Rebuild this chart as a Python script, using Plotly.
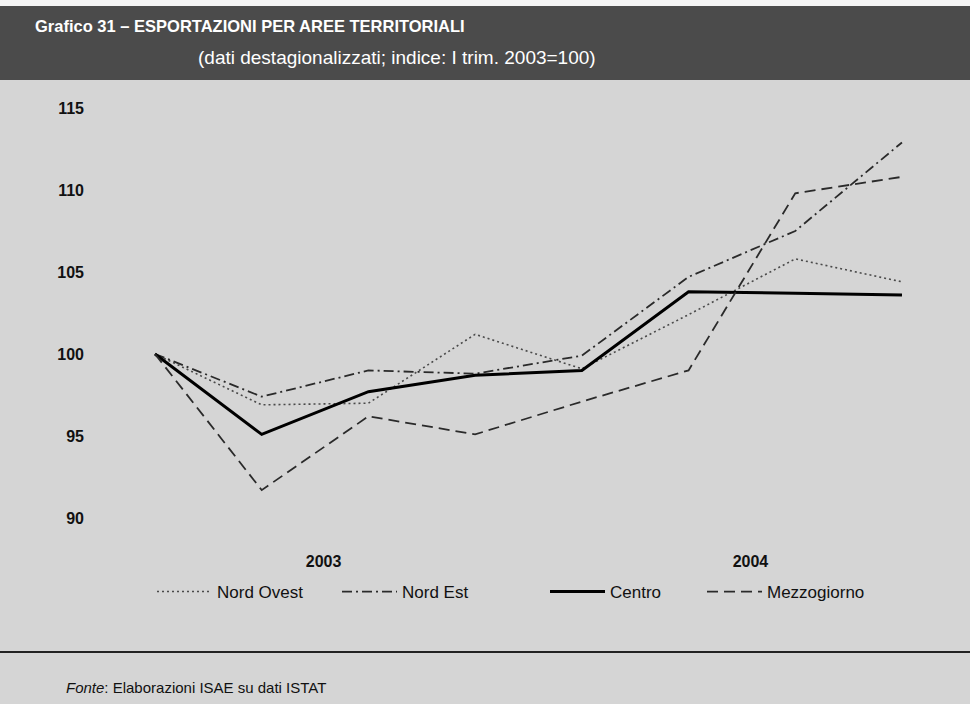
import plotly.graph_objects as go

# ---- data ----
quarters = ["I 2003", "II 2003", "III 2003", "IV 2003", "I 2004", "II 2004", "III 2004", "IV 2004"]
nord_ovest = [100, 96.9, 97.0, 101.2, 99.1, 102.4, 105.8, 104.4]
nord_est = [100, 97.4, 99.0, 98.8, 99.9, 104.7, 107.5, 112.9]
centro = [100, 95.1, 97.7, 98.7, 99.0, 103.8, 103.7, 103.6]
mezzogiorno = [100, 91.7, 96.2, 95.1, 97.1, 99.0, 109.8, 110.8]
year_labels = ["2003", "2004"]
year_label_pos = [1.58, 5.58]
y_ticks = [90, 95, 100, 105, 110, 115]

W, H = 970, 704
L, R, T, B = 100, 10, 90, 164
PW, PH = W - L - R, H - T - B

def px(x):
    return (x - L) / PW

def py(y):
    return (H - B - y) / PH

FONT = "Liberation Sans, Arial, sans-serif"
BG = "#d5d5d5"

xs = list(range(len(quarters)))
fig = go.Figure()

series = [
    ("Nord Ovest", nord_ovest, dict(color="#4a4a4a", width=1.6, dash="2px,3px"), "legend", 160),
    ("Nord Est", nord_est, dict(color="#2a2a2a", width=1.8, dash="10px,4px,2px,4px"), "legend2", 345),
    ("Centro", centro, dict(color="#000000", width=3, dash="solid"), "legend3", 553),
    ("Mezzogiorno", mezzogiorno, dict(color="#2a2a2a", width=1.8, dash="11px,6px"), "legend4", 710),
]
for name, vals, line, leg, _ in series:
    fig.add_trace(go.Scatter(x=xs, y=vals, mode="lines", name=name, line=line,
                             legend=leg, hoverinfo="skip"))

legend_common = dict(orientation="h", yanchor="middle", y=py(592), xanchor="left",
                     bgcolor="rgba(0,0,0,0)", itemwidth=55,
                     font=dict(family=FONT, size=17, color="#111"))
legs = {}
for name, vals, line, leg, xpos in series:
    legs[leg] = dict(legend_common, x=px(xpos - 8))

fig.update_layout(
    width=W, height=H,
    margin=dict(l=L, r=R, t=T, b=B),
    paper_bgcolor=BG, plot_bgcolor=BG,
    showlegend=True,
    **legs,
    xaxis=dict(range=[(100 - 155) / 106.71, (960 - 155) / 106.71],
               tickvals=year_label_pos, ticktext=year_labels,
               showgrid=False, zeroline=False, showline=False, ticks="",
               ticklabelstandoff=10,
               tickfont=dict(family=FONT, size=16, color="#111", weight="bold")),
    yaxis=dict(range=[90 - (540 - 518) / 16.4, 115 + (108 - 90) / 16.4],
               tickvals=y_ticks, showgrid=False, zeroline=False, showline=False,
               ticks="", ticklabelstandoff=15,
               tickfont=dict(family=FONT, size=16, color="#111", weight="bold")),
)

# white strip on top, title bar
fig.add_shape(type="rect", xref="paper", yref="paper",
              x0=px(0), x1=px(W), y0=py(6), y1=py(0),
              fillcolor="#f4f4f4", line=dict(width=0), layer="below")
fig.add_shape(type="rect", xref="paper", yref="paper",
              x0=px(0), x1=px(W), y0=py(80), y1=py(6),
              fillcolor="#4b4b4b", line=dict(width=0), layer="below")
# horizontal rule above source
fig.add_shape(type="line", xref="paper", yref="paper",
              x0=px(0), x1=px(W), y0=py(652), y1=py(652),
              line=dict(color="#222", width=2))

fig.add_annotation(xref="paper", yref="paper", x=px(33), y=py(26), xanchor="left", yanchor="middle",
                   text="<b>Grafico 31 – ESPORTAZIONI PER AREE TERRITORIALI</b>", showarrow=False,
                   font=dict(family=FONT, size=16.5, color="white"))
fig.add_annotation(xref="paper", yref="paper", x=px(196), y=py(57), xanchor="left", yanchor="middle",
                   text="(dati destagionalizzati; indice: I trim. 2003=100)", showarrow=False,
                   font=dict(family=FONT, size=19, color="white"))
fig.add_annotation(xref="paper", yref="paper", x=px(64), y=py(687), xanchor="left", yanchor="middle",
                   text="<i>Fonte</i>: Elaborazioni ISAE su dati ISTAT", showarrow=False,
                   font=dict(family=FONT, size=15, color="#111"))

fig.write_html("out.html", config={"displayModeBar": False},
               post_script="document.body.style.margin='0';document.body.style.background='" + BG + "';")
